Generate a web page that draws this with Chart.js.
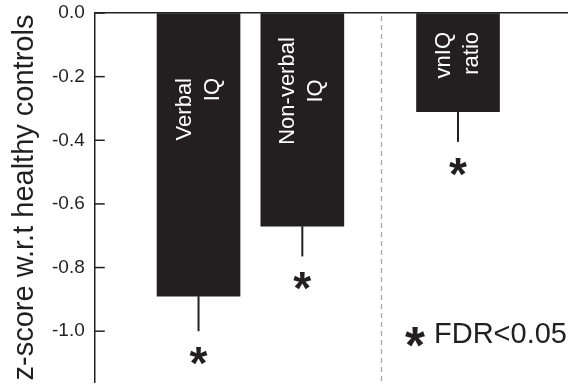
<!DOCTYPE html>
<html><head><meta charset="utf-8">
<script src="https://cdn.jsdelivr.net/npm/chart.js@4"></script>
<style>html,body{margin:0;padding:0;background:#fff}canvas{display:block}</style>
</head><body><canvas id="c" width="573" height="384"></canvas>
<script>
// ---- data ----
const categories = ['Verbal IQ', 'Non-verbal IQ', 'vnIQ ratio'];
const barLabelLines = [['Verbal', 'IQ'], ['Non-verbal', 'IQ'], ['vnIQ', 'ratio']];
const categoryPositions = [1, 2, 3.5];
const zScores = [-0.89, -0.67, -0.31];
const errorLower = [-1.0, -0.765, -0.405];
const significant = [true, true, true];
const yTicks = [0, -0.2, -0.4, -0.6, -0.8, -1.0];
const yAxisTitle = 'z-score w.r.t healthy controls';
const legendText = 'FDR<0.05';
const separatorAt = 2.76;

// ---- styling ----
const INK = '#231f20';
const FONT = "'Liberation Sans', Arial, Helvetica, sans-serif";
const labelLayout = [
  { align: 'end', y: 78 },
  { align: 'center', y: 91 },
  { align: 'end', y: 32 }
];

function drawStar(ctx, x, y, targetWidth) {
  ctx.save();
  ctx.font = `bold 100px ${FONT}`;
  let m = ctx.measureText('*');
  const w100 = m.actualBoundingBoxLeft + m.actualBoundingBoxRight;
  const size = 100 * targetWidth / w100;
  ctx.font = `bold ${size}px ${FONT}`;
  m = ctx.measureText('*');
  const L = m.actualBoundingBoxLeft, R = m.actualBoundingBoxRight;
  const A = m.actualBoundingBoxAscent, D = m.actualBoundingBoxDescent;
  ctx.textAlign = 'left';
  ctx.textBaseline = 'alphabetic';
  ctx.fillStyle = INK;
  ctx.fillText('*', x - (R - L) / 2, y + (A - D) / 2);
  ctx.restore();
}

const annotations = {
  id: 'annotations',
  beforeDatasetsDraw(chart) {
    const { ctx, chartArea, scales: { x } } = chart;
    const px = Math.round(x.getPixelForValue(separatorAt)) + 0.5;
    ctx.save();
    ctx.strokeStyle = '#a8a8a8';
    ctx.lineWidth = 1.3;
    ctx.setLineDash([5, 4]);
    ctx.beginPath();
    ctx.moveTo(px, chartArea.top + 3);
    ctx.lineTo(px, chartArea.bottom);
    ctx.stroke();
    ctx.restore();
  },
  afterDatasetsDraw(chart) {
    const { ctx, chartArea, scales: { x, y } } = chart;
    ctx.save();
    // inward tick marks
    ctx.strokeStyle = INK;
    ctx.lineWidth = 1.5;
    yTicks.forEach(v => {
      const py = y.getPixelForValue(v);
      ctx.beginPath();
      ctx.moveTo(chartArea.left, py);
      ctx.lineTo(chartArea.left + 10, py);
      ctx.stroke();
    });
    // error bars + significance stars
    ctx.lineWidth = 2;
    categoryPositions.forEach((p, i) => {
      const cx = x.getPixelForValue(p);
      const y0 = y.getPixelForValue(zScores[i]);
      const y1 = y.getPixelForValue(errorLower[i]);
      ctx.beginPath();
      ctx.moveTo(cx, y0);
      ctx.lineTo(cx, y1);
      ctx.stroke();
      if (significant[i]) drawStar(ctx, cx, y1 + 25, 18);
    });
    // rotated labels inside bars
    ctx.fillStyle = '#ffffff';
    ctx.font = `22px ${FONT}`;
    ctx.textBaseline = 'middle';
    categoryPositions.forEach((p, i) => {
      const cx = x.getPixelForValue(p);
      const lay = labelLayout[i];
      const lines = barLabelLines[i];
      ctx.save();
      ctx.translate(cx, lay.y);
      ctx.rotate(-Math.PI / 2);
      ctx.textAlign = lay.align === 'end' ? 'right' : 'center';
      lines.forEach((t, j) => {
        const v = (j - (lines.length - 1) / 2) * 28;
        ctx.fillText(t, 0, v);
      });
      ctx.restore();
    });
    // legend
    ctx.fillStyle = INK;
    ctx.font = `29px ${FONT}`;
    ctx.textAlign = 'right';
    ctx.textBaseline = 'middle';
    const ly = 335;
    ctx.fillText(legendText, chartArea.right, ly);
    const tw = ctx.measureText(legendText).width;
    ctx.restore();
    drawStar(ctx, chartArea.right - tw - 19, ly + 2, 20);
  }
};

new Chart(document.getElementById('c'), {
  type: 'bar',
  data: {
    labels: categories,
    datasets: [{
      label: 'z-score',
      data: categoryPositions.map((p, i) => ({ x: p, y: zScores[i] })),
      backgroundColor: INK,
      borderWidth: 0,
      barThickness: 83
    }]
  },
  options: {
    responsive: false,
    animation: false,
    layout: { padding: { left: 5, top: 13, right: 6, bottom: 0 } },
    plugins: { legend: { display: false }, tooltip: { enabled: false } },
    scales: {
      x: {
        type: 'linear', position: 'top', min: 0, max: 4.55, offset: false,
        grid: { display: false, drawTicks: false },
        ticks: { display: false },
        border: { display: true, color: INK, width: 1.5 }
      },
      y: {
        type: 'linear', min: -1.16, max: 0,
        afterBuildTicks: s => { s.ticks = yTicks.map(v => ({ value: v })); },
        ticks: {
          padding: 0, color: INK,
          font: { family: FONT, size: 19, lineHeight: 0.2 },
          callback: v => Number(v).toFixed(1)
        },
        grid: { display: true, drawOnChartArea: false, drawTicks: true, tickLength: 10, tickColor: 'rgba(0,0,0,0)' },
        border: { display: true, color: INK, width: 1.5 },
        title: {
          display: true, text: yAxisTitle, color: INK,
          font: { family: FONT, size: 29, lineHeight: 1 },
          padding: { top: 5, bottom: 13 }
        }
      }
    }
  },
  plugins: [annotations]
});
</script>
</body></html>
